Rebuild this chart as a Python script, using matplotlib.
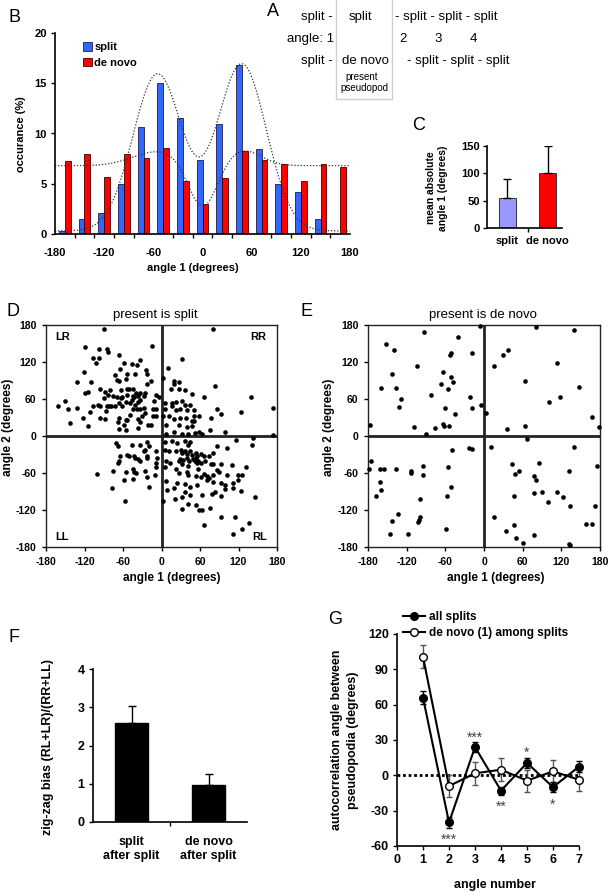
import numpy as np
import matplotlib
matplotlib.use("Agg")
import matplotlib.pyplot as plt
from matplotlib.patches import Patch
from matplotlib.lines import Line2D

plt.rcParams['font.family'] = ['Liberation Sans', 'DejaVu Sans']
plt.rcParams['axes.unicode_minus'] = False
plt.rcParams['axes.linewidth'] = 1.0

# ---------------- data ----------------
# Panel B : histogram of angle 1
bin_centers = [-168, -144, -120, -96, -72, -48, -24, 0, 24, 48, 72, 96, 120, 144, 168]
split_pct = [0.3, 1.5, 2.1, 5.0, 10.6, 15.0, 11.5, 7.4, 10.9, 16.8, 8.5, 5.0, 4.2, 1.5, 0.0]
denovo_pct = [7.3, 8.0, 5.7, 8.0, 7.6, 8.6, 5.3, 3.0, 5.6, 8.3, 7.4, 7.0, 5.3, 7.0, 6.7]
# fitted curves: baseline + gaussian terms (amplitude, mean, sd)
split_fit_baseline = 0.3
split_fit_terms = [(15.6, -55, 30), (16.6, 48, 30)]
denovo_fit_baseline = 6.8
denovo_fit_terms = [(1.4, -55, 30), (1.5, 50, 22), (-4.4, 0, 17)]

# Panel C
c_groups = ['split', 'de novo']
c_means = [55.5, 101]
c_err = [35, 49]
c_colors = ['#9999ff', '#ff0000']

# Panel D : present is split (angle 1, angle 2)
d_angle1 = [-90, -119, -97, -85, -83, -15, -106, -102, -97, -66, -33, -64, -59, -46, -42, -54, -38, -24,
            -132, -110, -121, -72, -69, -66, -56, -23, -16, -23, -63, -54, -51, -44, -96, -88, -80, -115,
            -120, -40, -33, -25, -28, -90, -83, -75, -69, -63, -61, -54, -45, -37, -33, -8, -4, -12, -151,
            -161, -145, -132, -142, -122, -114, -112, -106, -99, -96, -82, -85, -79, -87, -72, -67, -62,
            -55, -49, -46, -42, -37, -44, -38, -33, -28, -25, -13, -9, -14, -8, -88, -67, -68, -56, -59,
            -54, -49, -36, -33, -16, -67, -56, -36, -30, -96, -21, -43,
            81, 10, 32, 2, 19, 19, 28, 15, 28, 36, 47, 84, 67, 140, 5, 16, 23, 32, 36, 45, 6, 16, 22, 29,
            39, 50, 59, 87, 92, 124, 173, 11, 19, 29, 38, 50, 51, 77, 27, 40, 48, 7, 76, 99, 7, 19, 32,
            42, 52, 59, 63, 174, 47, 3,
            -71, -68, -46, -33, -23, -20, -25, -28, -9, -54, -50, -43, -41, -37, -33, -64, -67, -68, -23,
            -8, -9, -75, -45, -43, -39, -55, -25, -23, -10, -100, -45, -58, -19, -77, -57, -7, -23,
            5, 5, 16, 11, 24, 37, 41, 45, 23, 30, 32, 36, 40, 45, 48, 53, 55, 61, 66, 29, 34, 40, 43, 49,
            57, 68, 74, 81, 87, 102, 116, 141, 143, 7, 14, 27, 32, 41, 52, 61, 77, 81, 92, 110, 5, 22, 39,
            41, 54, 61, 67, 71, 74, 80, 89, 102, 119, 126, 132, 27, 7, 24, 37, 45, 56, 71, 81, 92, 99, 111,
            119, 8, 19, 36, 45, 63, 78, 84, 92, 99, 112, 124, 145, 3, 21, 32, 41, 54, 59, 63, 32, 75, 92,
            115, 136, 67, 125, 111, 53, 55, 87, 57]
d_angle2 = [173, 145, 141, 141, 136, 146, 126, 118, 126, 132, 124, 108, 118, 116, 100, 100, 115, 107,
            87, 87, 104, 99, 91, 89, 92, 100, 90, 84, 75, 76, 77, 76, 76, 72, 75, 71, 70, 69, 69, 69, 65,
            62, 66, 65, 63, 62, 64, 66, 65, 65, 58, 66, 63, 57, 57, 49, 44, 45, 21, 29, 16, 39, 49, 51,
            48, 48, 48, 48, 40, 48, 54, 48, 55, 53, 58, 51, 55, 43, 43, 43, 45, 37, 43, 43, 32, 32, 28,
            29, 23, 26, 18, 26, 34, 27, 23, 18, 11, 10, 13, 33, 29, 18, 63,
            173, 111, 125, 94, 90, 84, 88, 77, 76, 75, 68, 81, 63, 63, 54, 53, 55, 57, 50, 51, 44, 48, 42,
            44, 42, 42, 33, 43, 35, 39, 46, 32, 28, 30, 29, 33, 24, 29, 18, 14, 17, 18, 10, 6, 3, 6, 3, 3,
            5, 6, 3, 2, 25, 33,
            -12, -16, -14, -14, -9, -17, -22, -25, -24, -31, -33, -32, -36, -38, -41, -33, -41, -44, -36,
            -44, -51, -56, -54, -58, -60, -59, -56, -66, -63, -62, -70, -71, -82, -84, -105, -35, -32,
            -10, -22, -8, -25, -12, -8, -14, -9, -25, -22, -28, -25, -29, -25, -31, -28, -32, -29, -33,
            -37, -39, -36, -40, -38, -40, -40, -32, -27, -16, -20, -6, -14, -3, -41, -43, -41, -45, -49,
            -41, -43, -45, -46, -46, -47, -51, -54, -59, -63, -65, -67, -61, -65, -68, -63, -59, -64, -64,
            -63, -50, -60, -73, -77, -78, -82, -79, -71, -75, -76, -79, -76, -72, -87, -85, -90, -95, -95,
            -94, -90, -98, -86, -85, -89, -99, -105, -102, -99, -110, -112, -120, -120, -119, -117, -131,
            -131, -141, -145, -150, -159, -36, -44, -55, -54]

# Panel E : present is de novo
e_angle1 = [-93, -152, -140, -41, -6, -51, -53, -18, -104, -142, -64, -51, -48, -67, -56, -160, -137,
            -129, -83, -21, -132, -61, -18, -5, -45, -177, -108, -76, -64, -62, -55, -90,
            3, 15, 29, 38, 81, 139, 113, 63, 148, 101, 118, 167, 36, 63, 179,
            66, 11, -23, -19, -49, 139, -176, -178, -162, -155, -137, -114, -113, -95, -95, -56, -162,
            -160, -167, -51, -58, -99, -133, -99, -101, -103, -142, -146, -118, -59, 16, 43, 48, 55, 85,
            77, 80, 90, 77, 113, 122, 100, 46, 132, 134, 176, 173, 34, 46, 49, 60, 78, 132, 134, 159, 168]
e_angle2 = [168, 149, 140, 160, 179, 134, 132, 134, 113, 100, 103, 96, 87, 85, 76, 78, 78, 60, 66, 63,
            47, 46, 46, 50, 36, 18, 14, 13, 20, 17, 16, 3,
            37, 113, 132, 139, 176, 172, 118, 89, 80, 55, 63, 31, 12, 16, 15,
            -5, -18, -19, -21, -22, -18, -41, -54, -54, -53, -53, -56, -60, -48, -63, -50, -75, -88, -97,
            -82, -97, -102, -127, -131, -136, -139, -138, -159, -159, -150, -131, -45, -61, -56, -44, -65,
            -71, -91, -93, -91, -99, -107, -97, -57, -114, -48, -113, -154, -145, -166, -173, -161, -175,
            -176, -142, -142]

# Panel F
f_groups = ['split\nafter split', 'de novo\nafter split']
f_means = [2.6, 0.96]
f_err = [0.42, 0.30]

# Panel G
g_angle = [1, 2, 3, 4, 5, 6, 7]
g_all = [66, -40, 24, -13, 10.5, -10, 7.4]
g_all_err = [5.5, 4.5, 4.0, 3.5, 4.5, 4.5, 4.5]
g_dn = [100.7, -9.1, 1.7, 4.8, -4.5, 3.4, -3.7]
g_dn_err = [9.6, 9.3, 9.5, 9.5, 9.3, 9.3, 9.3]
g_sig_angle = [2, 3, 4, 5, 6]
g_sig_text = ['***', '***', '**', '*', '*']
g_sig_side = ['below', 'above', 'below', 'above', 'below']

# ---------------- figure ----------------
W, H = 610, 893
fig = plt.figure(figsize=(W / 100, H / 100), dpi=100)


def px_axes(l, t, r, b):
    return fig.add_axes([l / W, 1 - b / H, (r - l) / W, (b - t) / H])


ov = fig.add_axes([0, 0, 1, 1], zorder=20)
ov.set_xlim(0, W)
ov.set_ylim(H, 0)
ov.axis('off')


def T(x, y, s, size=8, weight='bold', ha='center', va='center', rot=0, color='black'):
    ov.text(x, y, s, fontsize=size, fontweight=weight, ha=ha, va=va, rotation=rot, color=color)


def bold_ticks(ax):
    for lbl in ax.get_xticklabels(which='both') + ax.get_yticklabels():
        lbl.set_fontweight('bold')


# panel letters
for letter, (x, y) in {'B': (8, 17), 'A': (267, 11), 'C': (412, 125), 'D': (6, 312),
                       'E': (300, 312), 'F': (8, 638), 'G': (328, 619)}.items():
    T(x, y, letter, size=13, weight='normal', ha='left')

# ---------- Panel A (text scheme) ----------
fsA = 9.5
T(333, 17, 'split -', fsA, 'normal', ha='right')
T(360, 17, 'split', fsA, 'normal')
T(395, 17, '- split - split - split', fsA, 'normal', ha='left')
T(334, 39, 'angle: 1', fsA, 'normal', ha='right')
for s, x in zip(['2', '3', '4'], [403, 438, 473]):
    T(x, 39, s, fsA, 'normal')
T(333, 61, 'split -', fsA, 'normal', ha='right')
T(365, 61, 'de novo', fsA, 'normal')
T(407, 61, '- split - split - split', fsA, 'normal', ha='left')
T(362, 77, 'present', 7, 'normal')
T(364, 88, 'pseudopod', 7, 'normal')
ov.plot([336, 336, 392, 392], [0, 99, 99, 0], color='#cfcfcf', lw=1)

# ---------- Panel B ----------
axB = px_axes(55, 33, 350, 234)
axB.patch.set_alpha(0)
bw = 7.2
bc = np.array(bin_centers, dtype=float)
axB.bar(bc - bw / 2, split_pct, width=bw, color='#3366ff', edgecolor='#1d1d40', linewidth=0.6, label='split')
axB.bar(bc + bw / 2, denovo_pct, width=bw, color='#ff0000', edgecolor='#400000', linewidth=0.6, label='de novo')
xs = np.linspace(-180, 180, 721)
split_fit = split_fit_baseline + sum(a * np.exp(-(xs - m) ** 2 / (2 * s * s)) for a, m, s in split_fit_terms)
denovo_fit = denovo_fit_baseline + sum(a * np.exp(-(xs - m) ** 2 / (2 * s * s)) for a, m, s in denovo_fit_terms)
axB.plot(xs, split_fit, ls=(0, (1, 1.5)), color='#333333', lw=0.9)
axB.plot(xs, denovo_fit, ls=(0, (1, 1.5)), color='#333333', lw=0.9)
axB.set_xlim(-180, 180)
axB.set_ylim(0, 20)
axB.set_xticks(np.arange(-180, 181, 60))
axB.set_xticks(np.arange(-180, 181, 24), minor=True)
axB.tick_params(axis='x', which='major', length=0, pad=10, labelsize=8)
axB.tick_params(axis='x', which='minor', length=3, width=1, direction='out')
axB.set_yticks(range(0, 21, 5))
axB.tick_params(axis='y', length=3, width=1, labelsize=8, pad=3)
for sp in ['top', 'right']:
    axB.spines[sp].set_visible(False)
axB.spines['left'].set_linewidth(1.2)
axB.spines['bottom'].set_linewidth(1.2)
bold_ticks(axB)
axB.legend(handles=[Patch(facecolor='#3366ff', edgecolor='#1d1d40', lw=0.6),
                    Patch(facecolor='#ff0000', edgecolor='#400000', lw=0.6)],
           labels=['split', 'de novo'], loc='upper left', bbox_to_anchor=(0.095, 0.955),
           frameon=False, borderpad=0, borderaxespad=0, handlelength=0.8, handleheight=0.8,
           handletextpad=0.2, labelspacing=0.5, prop={'weight': 'bold', 'size': 8})
T(21, 134, 'occurance (%)', 8, rot=90)
T(193, 268, 'angle 1 (degrees)', 8)

# ---------- Panel C ----------
axC = px_axes(487, 146, 562, 228)
axC.bar([0, 1], c_means, width=0.42, color=c_colors, edgecolor='#333333', linewidth=0.7)
axC.errorbar([0, 1], c_means, yerr=[[0, 0], c_err], fmt='none', ecolor='black', elinewidth=1, capsize=3, capthick=1)
axC.set_xlim(-0.5, 1.35)
axC.set_ylim(0, 150)
axC.set_yticks([0, 50, 100, 150])
axC.set_xticks([0.5])
axC.set_xticklabels([''])
axC.set_xticks([0, 1], minor=True)
axC.set_xticklabels(c_groups, minor=True)
axC.tick_params(axis='x', which='minor', length=0, pad=6, labelsize=8)
axC.tick_params(axis='x', which='major', length=3, width=1)
axC.tick_params(axis='y', length=3, width=1, labelsize=8, pad=2)
for sp in ['top', 'right']:
    axC.spines[sp].set_visible(False)
axC.spines['left'].set_linewidth(1.2)
axC.spines['bottom'].set_linewidth(1.2)
bold_ticks(axC)
T(437, 188, 'mean absolute\nangle 1 (degrees)', 7.5, rot=90)

# ---------- Panels D and E ----------
def scatter_panel(ax, a1, a2):
    ax.scatter(a1, a2, s=11, color='black', linewidths=0, zorder=3, clip_on=False)
    ax.axhline(0, color='#222222', lw=2, zorder=2)
    ax.axvline(0, color='#222222', lw=2, zorder=2)
    ax.set_xlim(-180, 180)
    ax.set_ylim(-180, 180)
    ticks = np.arange(-180, 181, 60)
    ax.set_xticks(ticks)
    ax.set_yticks(ticks)
    ax.tick_params(length=3, width=1, labelsize=7.5, pad=4)
    bold_ticks(ax)
    for sp in ax.spines.values():
        sp.set_linewidth(1.0)
        sp.set_color('#222222')


axD = px_axes(46, 325, 277, 547)
scatter_panel(axD, d_angle1, d_angle2)
for s, (x, y, ha) in {'LR': (-166, 160, 'left'), 'RR': (164, 160, 'right'),
                      'LL': (-165, -163, 'left'), 'RL': (164, -163, 'right')}.items():
    axD.text(x, y, s, fontsize=8, fontweight='bold', ha=ha, va='center', zorder=4)
T(155, 315, 'present is split', 9.5, 'normal')
T(8, 427, 'angle 2 (degrees)', 8.5, rot=90)
T(172, 578, 'angle 1 (degrees)', 8.5)

axE = px_axes(368, 325, 600, 547)
scatter_panel(axE, e_angle1, e_angle2)
T(483, 315, 'present is de novo', 9.5, 'normal')
T(329, 427, 'angle 2 (degrees)', 8.5, rot=90)
T(496, 578, 'angle 1 (degrees)', 8.5)

# ---------- Panel F ----------
axF = px_axes(93, 669, 247, 822)
axF.bar([0, 1], f_means, width=0.43, color='black', edgecolor='black')
axF.errorbar([0, 1], f_means, yerr=[[0, 0], f_err], fmt='none', ecolor='black', elinewidth=1, capsize=3, capthick=1)
axF.set_xlim(-0.5, 1.5)
axF.set_ylim(0, 4)
axF.set_yticks([0, 1, 2, 3, 4])
axF.set_xticks([0.5])
axF.set_xticklabels([''])
axF.set_xticks([0, 1], minor=True)
axF.set_xticklabels(f_groups, minor=True)
axF.tick_params(axis='x', which='minor', length=0, pad=10, labelsize=9)
axF.tick_params(axis='x', which='major', length=3, width=1)
axF.tick_params(axis='y', length=3, width=1, labelsize=9, pad=3)
for sp in ['top', 'right']:
    axF.spines[sp].set_visible(False)
axF.spines['left'].set_linewidth(1.2)
axF.spines['bottom'].set_linewidth(1.2)
bold_ticks(axF)
T(48, 747, 'zig-zag bias (RL+LR)/(RR+LL)', 9, rot=90)

# ---------- Panel G ----------
axG = px_axes(397, 634, 579, 846)
axG.plot([0, 7], [0, 0], ls=(0, (1, 1)), color='black', lw=2, zorder=1)
axG.errorbar(g_angle, g_dn, yerr=g_dn_err, fmt='none', ecolor='#555555', elinewidth=1, capsize=2.5,
             capthick=1, zorder=2, clip_on=False)
axG.errorbar(g_angle, g_all, yerr=g_all_err, fmt='none', ecolor='black', elinewidth=1, capsize=2.5,
             capthick=1, zorder=2, clip_on=False)
axG.plot(g_angle, g_all, '-o', color='black', lw=1.5, ms=5.5, mfc='black', mec='black', zorder=3,
         clip_on=False)
axG.plot(g_angle, g_dn, '-o', color='black', lw=1.5, ms=5.5, mfc='white', mec='black', zorder=4,
         clip_on=False)
for a, s, side in zip(g_sig_angle, g_sig_text, g_sig_side):
    i = g_angle.index(a)
    if side == 'above':
        yv = max(g_all[i] + g_all_err[i], g_dn[i] + g_dn_err[i]) + 0.5
    else:
        yv = min(g_all[i] - g_all_err[i], g_dn[i] - g_dn_err[i]) - 14
    axG.text(a, yv, s, fontsize=10, color='#444444', ha='center', va='baseline')
axG.set_xlim(0, 7)
axG.set_ylim(-60, 120)
axG.set_xticks(range(0, 8))
axG.set_yticks(range(-60, 121, 30))
axG.tick_params(length=3, width=1, labelsize=9, pad=3)
for sp in ['top', 'right']:
    axG.spines[sp].set_visible(False)
axG.spines['left'].set_linewidth(1.2)
axG.spines['bottom'].set_linewidth(1.2)
bold_ticks(axG)
axG.legend(handles=[Line2D([], [], color='black', lw=1.5, marker='o', ms=5.5, mfc='black'),
                    Line2D([], [], color='black', lw=1.5, marker='o', ms=5.5, mfc='white')],
           labels=['all splits', 'de novo (1) among splits'], loc='upper left',
           bbox_to_anchor=((403 - 397) / 182, 1 + (634 - 611) / 212), frameon=False, borderpad=0,
           borderaxespad=0, handlelength=1.9, handletextpad=0.3, labelspacing=0.35,
           prop={'weight': 'bold', 'size': 8.5})
T(337, 740, 'autocorrelation angle between', 9, rot=90)
T(353, 740, 'pseudopodia (degrees)', 9, rot=90)
T(495, 885, 'angle number', 9)

fig.savefig('out.png', dpi=100)
